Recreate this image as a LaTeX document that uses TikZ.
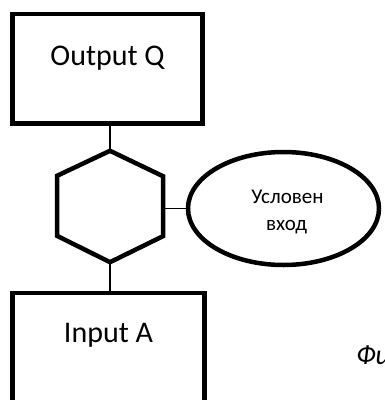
\documentclass[tikz,border=0pt]{standalone}
\usepackage{fontspec}
\setmainfont{Carlito}
\usetikzlibrary{shapes.geometric}
\begin{document}
\begin{tikzpicture}[x=1pt,y=-1pt,
  box/.style={draw=black, line width=4.5pt, rectangle, inner sep=0pt},
  oval/.style={draw=black, line width=4.5pt, ellipse, inner sep=0pt},
  hexline/.style={draw=black, line width=4.5pt, line join=miter},
  link/.style={draw=black, line width=1.4pt},
  bigtext/.style={font=\fontsize{30}{36}\selectfont, inner sep=0pt, anchor=base},
  smalltext/.style={font=\fontsize{21}{27}\selectfont, inner sep=0pt, anchor=base}]
\useasboundingbox (0,0) rectangle (384,400);
\clip (0,0) rectangle (384,400);

% rectangular blocks
\node[box, minimum width=190pt, minimum height=109.5pt] (outq) at (107.5,68.75) {};
\node[box, minimum width=192pt, minimum height=112pt] (inpa) at (108.5,349) {};
\node[bigtext] (outqtext) at (107.5,65) {Output Q};
\node[bigtext] (inpatext) at (108.5,342.7) {Input A};

% hexagonal gate (bounding frame plus outline)
\node[rectangle, inner sep=0pt, minimum width=106pt, minimum height=111pt] (hex) at (110,206.5) {};
\path[hexline] (hex.north) -- ++(-53,25) -- ++(0,60) -- (hex.south)
  -- ++(53,-26) -- ++(0,-60) -- cycle;

% condition oval
\node[oval, minimum width=191pt, minimum height=113pt] (cond) at (283.5,208.5) {};
\node[smalltext] (condline1) at (287.5,203.3) {Условен};
\node[smalltext] (condline2) at (286.7,230.3) {вход};

% connectors
\draw[link] (hex.north |- outq.south) -- (hex.north);
\draw[link] (hex.south) -- (hex.south |- inpa.north);
\draw[link] (cond.west) -- (cond.west -| hex.east);

% caption
\node[anchor=base west, inner sep=0pt, font=\itshape\fontsize{28}{32}\selectfont] (fig) at (356,364) {Фи};
\end{tikzpicture}
\end{document}
